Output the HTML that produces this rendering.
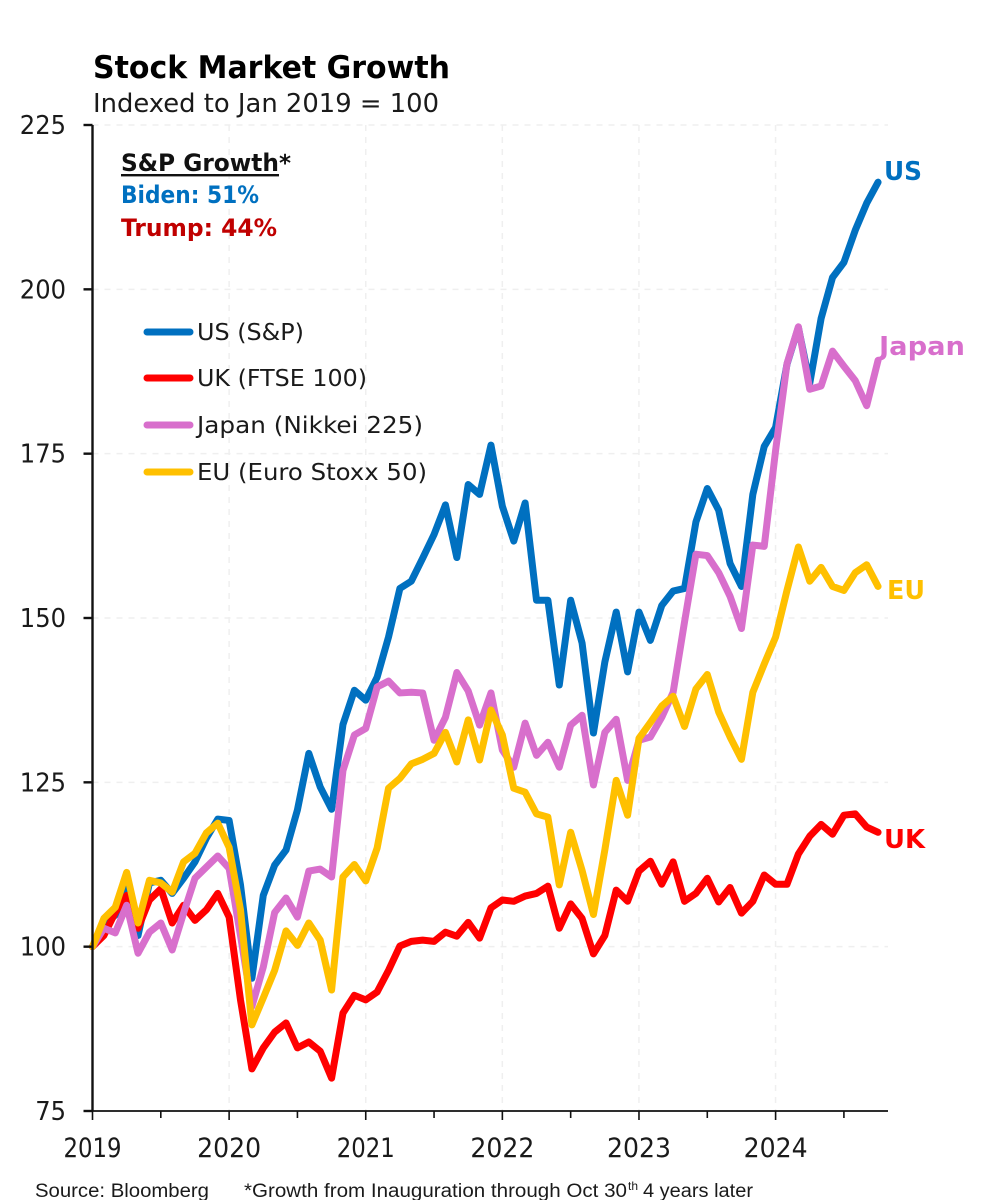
<!DOCTYPE html>
<html lang="en">
<head>
<meta charset="utf-8">
<title>Stock Market Growth</title>
<style>
html,body{margin:0;padding:0;background:#fff;}
body{width:986px;height:1200px;overflow:hidden;}
svg{display:block;}
text{font-family:"DejaVu Sans","Liberation Sans",sans-serif;fill:#1a1a1a;}
.foot{font-family:"Liberation Sans",sans-serif;}
</style>
</head>
<body>
<svg id="chart" width="986" height="1200" viewBox="0 0 986 1200" xmlns="http://www.w3.org/2000/svg">
  <text x="93" y="78" font-size="31" font-weight="700" style="fill:#000" textLength="357" lengthAdjust="spacingAndGlyphs">Stock Market Growth</text>
  <text x="93" y="112" font-size="26" textLength="346" lengthAdjust="spacingAndGlyphs">Indexed to Jan 2019 = 100</text>
  <g id="grid"></g>
  <g id="series"></g>
  <g id="axes"></g>

  <g>
    <text x="121" y="171" font-size="24" font-weight="700" style="fill:#111" textLength="158" lengthAdjust="spacingAndGlyphs">S&amp;P Growth</text>
    <rect x="121" y="174" width="158" height="2.4" fill="#111"/>
    <text x="279" y="171" font-size="23" font-weight="700" style="fill:#111">*</text>
    <text x="121" y="203" font-size="24" font-weight="700" style="fill:#0070C0" textLength="138" lengthAdjust="spacingAndGlyphs">Biden: 51%</text>
    <text x="121" y="236" font-size="24" font-weight="700" style="fill:#C00000" textLength="156" lengthAdjust="spacingAndGlyphs">Trump: 44%</text>
  </g>

  <g>
    <line x1="147" x2="190" y1="332" y2="332" stroke="#0070C0" stroke-width="7" stroke-linecap="round"/>
    <text x="197" y="340" font-size="23" textLength="107" lengthAdjust="spacingAndGlyphs">US (S&amp;P)</text>
    <line x1="147" x2="190" y1="378" y2="378" stroke="#FF0000" stroke-width="7" stroke-linecap="round"/>
    <text x="197" y="386" font-size="23" textLength="170" lengthAdjust="spacingAndGlyphs">UK (FTSE 100)</text>
    <line x1="147" x2="190" y1="425" y2="425" stroke="#D86FCC" stroke-width="7" stroke-linecap="round"/>
    <text x="197" y="433" font-size="23" textLength="226" lengthAdjust="spacingAndGlyphs">Japan (Nikkei 225)</text>
    <line x1="147" x2="190" y1="472" y2="472" stroke="#FFC000" stroke-width="7" stroke-linecap="round"/>
    <text x="197" y="480" font-size="23" textLength="230" lengthAdjust="spacingAndGlyphs">EU (Euro Stoxx 50)</text>
  </g>

  <text x="884" y="180" font-size="26" font-weight="700" style="fill:#0070C0" textLength="38" lengthAdjust="spacingAndGlyphs">US</text>
  <text x="879" y="355" font-size="26" font-weight="700" style="fill:#D86FCC" textLength="86" lengthAdjust="spacingAndGlyphs">Japan</text>
  <text x="887" y="599" font-size="26" font-weight="700" style="fill:#FFC000" textLength="38" lengthAdjust="spacingAndGlyphs">EU</text>
  <text x="884" y="848" font-size="26" font-weight="700" style="fill:#FF0000" textLength="41" lengthAdjust="spacingAndGlyphs">UK</text>

  <text class="foot" x="35" y="1197" font-size="19" textLength="174" lengthAdjust="spacingAndGlyphs">Source: Bloomberg</text>
  <text class="foot" x="244" y="1197" font-size="19" textLength="383" lengthAdjust="spacingAndGlyphs">*Growth from Inauguration through Oct 30</text>
  <text class="foot" x="628" y="1190" font-size="12">th</text>
  <text class="foot" x="643" y="1197" font-size="19" textLength="110" lengthAdjust="spacingAndGlyphs">4 years later</text>
</svg>

<script>
const yTicks = [75, 100, 125, 150, 175, 200, 225];
const yearLabels = ["2019", "2020", "2021", "2022", "2023", "2024"];
const monthsPerYear = 12;

const usValues = [100,103.3,104.8,108.9,101.7,109.7,110.1,108.1,110.4,112.9,116.5,119.4,119.2,109.4,95.2,107.8,112.4,114.7,120.8,129.4,124.3,120.9,133.8,139.0,137.5,141.0,147.1,154.5,155.6,159.1,162.7,167.2,159.2,170.3,168.8,176.3,167.0,161.7,167.5,152.7,152.7,139.8,152.7,146.2,132.5,143.3,150.9,141.8,150.9,146.6,151.9,154.1,154.5,164.6,169.7,166.4,158.3,154.8,168.8,176.1,179.0,188.6,194.2,185.7,195.6,201.8,204.1,209.0,213.1,216.3];
const ukValues = [100,101.7,105.2,107.8,102.8,107.1,108.8,103.6,106.3,104.0,105.6,108.1,104.5,91.9,81.4,84.6,87.0,88.4,84.6,85.5,84.1,80.0,89.9,92.6,91.9,93.1,96.4,100.1,100.8,101.0,100.8,102.2,101.6,103.7,101.3,105.9,107.1,106.9,107.7,108.1,109.2,102.8,106.5,104.3,98.9,101.7,108.6,106.9,111.5,113.0,109.5,112.9,106.9,108.1,110.4,106.8,109.0,105.1,106.9,110.9,109.5,109.5,114.1,116.8,118.6,117.1,120.0,120.2,118.2,117.4];
const japanValues = [100,102.8,102.1,106.3,99.0,102.2,103.6,99.5,105.1,110.4,112.1,113.8,111.9,101.7,90.9,96.9,105.2,107.4,104.5,111.5,111.8,110.6,126.8,132.2,133.2,139.5,140.4,138.6,138.7,138.6,131.4,134.9,141.7,138.9,133.7,138.6,129.9,127.3,134.0,129.1,131.1,127.3,133.7,135.2,124.6,132.6,134.6,125.3,131.4,131.9,134.9,138.7,149.4,159.7,159.5,156.9,153.3,148.4,161.1,160.9,175.5,188.7,194.3,184.8,185.3,190.6,188.3,186.1,182.3,189.2];
const euValues = [100,104.3,106.0,111.3,103.6,110.1,109.7,108.3,112.9,114.2,117.3,118.8,115.1,105.6,88.1,92.2,96.4,102.4,100.2,103.6,101.0,93.4,110.6,112.5,110.0,115.0,124.1,125.6,127.8,128.5,129.4,132.6,128.1,134.5,128.4,136.0,132.2,124.1,123.5,120.2,119.7,109.4,117.4,111.6,104.9,114.7,125.3,120.0,131.7,134.1,136.6,138.1,133.5,139.2,141.4,135.7,131.9,128.5,138.7,143.0,147.1,154.2,160.8,155.6,157.7,154.8,154.2,156.9,158.1,154.8];

const NS = "http://www.w3.org/2000/svg";
const plotLeft = 92.5, plotRight = 888, plotTop = 125, plotBottom = 1111;
const monthWidth = 11.385;

function xScale(month) { return plotLeft + month * monthWidth; }
function yScale(value) { return plotBottom - (value - 75) * (plotBottom - plotTop) / 150; }

function make(tag, parent, attrs) {
  const el = document.createElementNS(NS, tag);
  Object.keys(attrs).forEach(function (k) { el.setAttribute(k, attrs[k]); });
  parent.appendChild(el);
  return el;
}

const gridGroup = document.getElementById("grid");
const axesGroup = document.getElementById("axes");
const seriesGroup = document.getElementById("series");

yTicks.forEach(function (tick) {
  const y = yScale(tick);
  if (tick !== 75) {
    const g = make("line", gridGroup, { x1: plotLeft, x2: plotRight, y1: y, y2: y, stroke: "#efefef", "stroke-width": 1.5, "stroke-dasharray": "6 6" });
    
    
  }
  const t = make("line", axesGroup, { x1: plotLeft - 9, x2: plotLeft, y1: y, y2: y, stroke: "#111", "stroke-width": 2.4 });
  
  
  const labelText = String(tick);
  const label = make("text", axesGroup, { x: 20 + (46 - labelText.length * 15.4), y: y + 9, "font-size": 26, textLength: labelText.length * 15.4, lengthAdjust: "spacingAndGlyphs" });
  
  
  label.textContent = labelText;
});

yearLabels.forEach(function (year, i) {
  const x = xScale(i * monthsPerYear);
  if (i > 0) {
    const g = make("line", gridGroup, { x1: x, x2: x, y1: plotTop, y2: plotBottom, stroke: "#efefef", "stroke-width": 1.5, "stroke-dasharray": "6 6" });
    
    
  }
  const major = make("line", axesGroup, { x1: x, x2: x, y1: plotBottom, y2: plotBottom + 9, stroke: "#111", "stroke-width": 1.6 });
  
  
  const mid = xScale(i * monthsPerYear + monthsPerYear / 2);
  const minor = make("line", axesGroup, { x1: mid, x2: mid, y1: plotBottom, y2: plotBottom + 7, stroke: "#111", "stroke-width": 1.6 });
  
  
  const labelWidth = year.indexOf("1") >= 0 ? 58 : 64;
  const label = make("text", axesGroup, { x: x - labelWidth / 2, y: 1157, "font-size": 27, textLength: labelWidth, lengthAdjust: "spacingAndGlyphs" });
  
  
  label.textContent = year;
});

const ySpine = make("line", axesGroup, { x1: plotLeft, x2: plotLeft, y1: plotTop, y2: plotBottom, stroke: "#111", "stroke-width": 2.4 });


const xSpine = make("line", axesGroup, { x1: plotLeft - 1, x2: plotRight, y1: plotBottom, y2: plotBottom, stroke: "#111", "stroke-width": 1.8 });



function drawLine(values, color, name) {
  const pts = values.map(function (v, i) { return xScale(i).toFixed(2) + "," + yScale(v).toFixed(2); }).join(" ");
  const line = make("polyline", seriesGroup, { points: pts, fill: "none", stroke: color, "stroke-width": 7, "stroke-linejoin": "round", "stroke-linecap": "round" });
  
  
}

drawLine(usValues, "#0070C0", "line-us");
drawLine(ukValues, "#FF0000", "line-uk");
drawLine(japanValues, "#D86FCC", "line-japan");
drawLine(euValues, "#FFC000", "line-eu");
</script>
</body>
</html>
